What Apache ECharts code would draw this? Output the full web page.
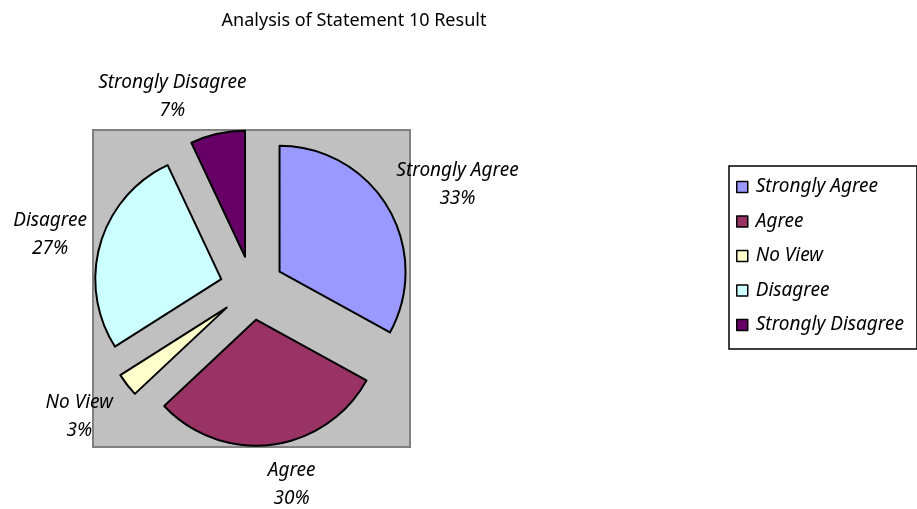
<!DOCTYPE html>
<html>
<head>
<meta charset="utf-8">
<script src="https://cdn.jsdelivr.net/npm/echarts@6/dist/echarts.min.js"></script>
<style>
  html, body { margin: 0; padding: 0; background: #fff; }
  #chart { width: 917px; height: 509px; }
</style>
</head>
<body>
<div id="chart"></div>
<script>
const categories = ["Strongly Agree", "Agree", "No View", "Disagree", "Strongly Disagree"];
const values = [33, 30, 3, 27, 7];
const colors = ["#9999FF", "#993366", "#FFFFCC", "#CCFFFF", "#660066"];

const pieCenter = [252, 288];
const pieRadius = 126;
const explode = 32;
const labelGap = 166; // distance from pie centre to the near edge of a label
const labelFont = { family: "Noto Sans", size: 19, lineH: 28 };
// excel does not put its labels exactly on the radius, small per label nudges
const labelNudge = [[5, 15], [15, 1], [-7, 0], [-1, 5], [-34, 13]];

const total = values.reduce((a, b) => a + b, 0);
// mid angle of each slice, clockwise from 12 o'clock
const midAngles = [];
let acc = 0;
values.forEach(v => {
    midAngles.push((acc + v / 2) / total * Math.PI * 2);
    acc += v;
});

// measure label text to keep its box outside the pie
const ctx = document.createElement("canvas").getContext("2d");
ctx.font = "italic " + labelFont.size + "px '" + labelFont.family + "'";

const labelTexts = categories.map((name, i) => [name, Math.round(values[i] / total * 100) + "%"]);
const labelGraphics = labelTexts.map((lines, i) => {
    const w = Math.max(...lines.map(t => ctx.measureText(t).width));
    const h = labelFont.lineH * lines.length;
    const dx = Math.sin(midAngles[i]), dy = -Math.cos(midAngles[i]);
    const R = labelGap + Math.abs(dx) * w / 2 + Math.abs(dy) * h / 2;
    return {
        type: "text",
        x: pieCenter[0] + dx * R + labelNudge[i][0],
        y: pieCenter[1] + dy * R + labelNudge[i][1],
        z: 10,
        style: {
            text: lines.join("\n"),
            fontFamily: labelFont.family,
            fontSize: labelFont.size,
            fontStyle: "italic",
            lineHeight: labelFont.lineH,
            fill: "#000",
            align: "center",
            verticalAlign: "middle"
        }
    };
});

const chart = echarts.init(document.getElementById("chart"));

const option = {
    animation: false,
    backgroundColor: "#ffffff",
    title: {
        text: "Analysis of Statement 10 Result",
        left: 349,
        top: 7,
        textAlign: "center",
        textStyle: {
            fontFamily: "Noto Sans",
            fontSize: 18,
            fontWeight: "normal",
            color: "#000"
        }
    },
    graphic: [{
        // gray plot area
        type: "rect",
        z: -1,
        shape: { x: 93, y: 130, width: 317, height: 317 },
        style: { fill: "#C0C0C0", stroke: "#808080", lineWidth: 2 }
    }].concat(labelGraphics),
    legend: {
        orient: "vertical",
        left: 729,
        top: 166,
        padding: [10, 13, 13, 7],
        itemGap: 12.5,
        itemWidth: 11,
        itemHeight: 11,
        borderColor: "#000",
        borderWidth: 1.5,
        icon: "rect",
        itemStyle: { borderColor: "#000", borderWidth: 1.5 },
        textStyle: {
            fontFamily: "Noto Sans",
            fontSize: 19,
            fontStyle: "italic",
            lineHeight: 22,
            padding: [0, 0, 0, 3],
            color: "#000"
        },
        data: categories
    },
    series: [{
        type: "pie",
        center: pieCenter,
        radius: pieRadius,
        startAngle: 90,
        clockwise: true,
        selectedMode: "multiple",
        selectedOffset: explode,
        emphasis: { disabled: true },
        itemStyle: { borderColor: "#000", borderWidth: 2 },
        select: { itemStyle: { borderColor: "#000", borderWidth: 2 } },
        label: { show: false },
        labelLine: { show: false },
        data: categories.map((name, i) => ({
            name: name,
            value: values[i],
            selected: true,
            itemStyle: { color: colors[i] }
        }))
    }]
};

chart.setOption(option);
</script>
</body>
</html>
